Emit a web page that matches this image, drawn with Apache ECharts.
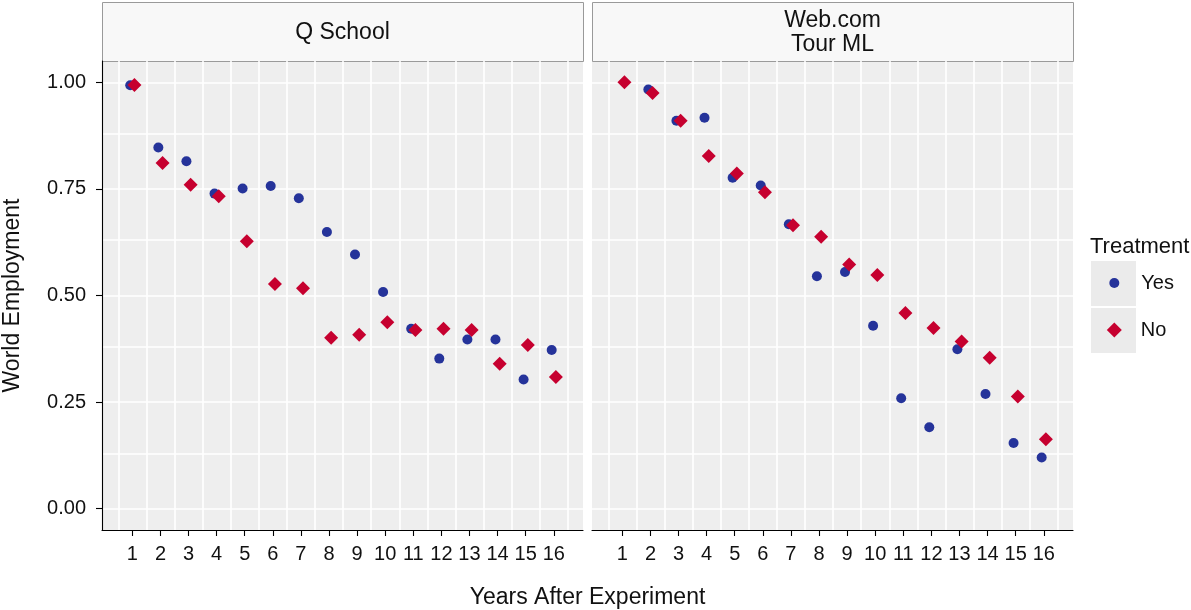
<!DOCTYPE html>
<html>
<head>
<meta charset="utf-8">
<title>World Employment by Years After Experiment</title>
<script src="https://cdn.jsdelivr.net/npm/echarts@6/dist/echarts.min.js"></script>
<style>
  html, body { margin: 0; padding: 0; background: #ffffff; }
  #chart { width: 1191px; height: 610px; }
</style>
</head>
<body>
<div id="chart"></div>
<script>
// Years after the experiment (x axis categories, shared by both panels)
const years = [1, 2, 3, 4, 5, 6, 7, 8, 9, 10, 11, 12, 13, 14, 15, 16];

// Panel titles
const panelTitles = ['Q School', 'Web.com\nTour ML'];

// Share still employed, Q School panel
const qSchoolYes = [0.993, 0.847, 0.815, 0.739, 0.751, 0.757, 0.728, 0.649, 0.596, 0.508, 0.422, 0.352, 0.397, 0.397, 0.303, 0.372];
const qSchoolNo  = [0.994, 0.811, 0.760, 0.733, 0.627, 0.527, 0.517, 0.401, 0.408, 0.437, 0.419, 0.422, 0.419, 0.340, 0.384, 0.309];

// Share still employed, Web.com Tour ML panel
const webYes = [null, 0.983, 0.910, 0.917, 0.776, 0.758, 0.667, 0.545, 0.555, 0.429, 0.259, 0.191, 0.374, 0.269, 0.154, 0.120];
const webNo  = [1.000, 0.975, 0.910, 0.827, 0.786, 0.742, 0.665, 0.638, 0.573, 0.548, 0.459, 0.424, 0.392, 0.354, 0.263, 0.163];

// Tick labels and grid-line positions
const yTicks = [0, 0.25, 0.5, 0.75, 1];
const yGridLines = [0, 0.125, 0.25, 0.375, 0.5, 0.625, 0.75, 0.875, 1];
const xGridLines = [0.5, 1.5, 2.5, 3.5, 4.5, 5.5, 6.5, 7.5, 8.5, 9.5, 10.5, 11.5, 12.5, 13.5, 14.5, 15.5, 16.5];

const FONT = '"Liberation Sans", Arial, Helvetica, sans-serif';
const TEXT = '#111111';
const BLUE = '#25339A';
const RED = '#C6002F';
const DODGE = 0.075;

// Panel geometry
const panelTop = 61, panelH = 469, panelW = 481;
const panelLeft = [102, 592];
const stripTop = 2, stripH = 59;

const xRange = { min: -0.08, max: 17.04 };
const yRange = { min: -0.05, max: 1.05 };

function pairs(values, shift) {
  const out = [];
  values.forEach((v, i) => { if (v !== null) out.push([years[i] + shift, v]); });
  return out;
}

const grids = panelLeft.map(l => ({
  left: l, top: panelTop, width: panelW, height: panelH,
  show: true, backgroundColor: '#EEEEEE', borderWidth: 0,
  containLabel: false, outerBoundsMode: 'none'
}));

const xAxes = [0, 1].map(i => ({
  type: 'value', gridIndex: i, min: xRange.min, max: xRange.max, z: 10,
  axisLine: { show: true, onZero: false, lineStyle: { color: '#000', width: 1.1 } },
  axisTick: { show: true, length: 6, customValues: years, lineStyle: { color: '#000', width: 1.1 } },
  axisLabel: { show: true, customValues: years, margin: 14, color: TEXT, fontFamily: FONT, fontSize: 20 },
  splitLine: { show: false }
}));

const yAxes = [0, 1].map(i => ({
  type: 'value', gridIndex: i, min: yRange.min, max: yRange.max, z: 10,
  axisLine: { show: i === 0, onZero: false, lineStyle: { color: '#000', width: 1.1 } },
  axisTick: { show: i === 0, length: 6, customValues: yTicks, lineStyle: { color: '#000', width: 1.1 } },
  axisLabel: { show: i === 0, customValues: yTicks, margin: 16, color: TEXT, fontFamily: FONT, fontSize: 20,
               formatter: v => v.toFixed(2) },
  splitLine: { show: false }
}));

// White grid lines, drawn through the axes as mark lines beneath the points
function gridSeries(i) {
  return {
    type: 'scatter', name: 'grid' + i, xAxisIndex: i, yAxisIndex: i, data: [], z: 1,
    silent: true, animation: false,
    markLine: {
      z: 1, silent: true, animation: false, symbol: ['none', 'none'],
      label: { show: false },
      emphasis: { disabled: true },
      lineStyle: { color: '#FFFFFF', width: 1.6, type: 'solid', opacity: 1 },
      data: xGridLines.map(v => ({ xAxis: v })).concat(yGridLines.map(v => ({ yAxis: v })))
    }
  };
}

function pointSeries(name, i, values, isYes) {
  return {
    type: 'scatter', name: name, xAxisIndex: i, yAxisIndex: i, z: isYes ? 3 : 4,
    symbol: isYes ? 'circle' : 'diamond',
    symbolSize: isYes ? 10 : 14,
    itemStyle: { color: isYes ? BLUE : RED, opacity: 1 },
    data: pairs(values, isYes ? -DODGE : DODGE),
    animation: false
  };
}

const graphics = [];
panelLeft.forEach((l, i) => {
  graphics.push({
    type: 'rect', left: l, top: stripTop,
    shape: { width: panelW, height: stripH },
    style: { fill: '#F8F8F8', stroke: '#9A9A9A', lineWidth: 1 }
  });
  graphics.push({
    type: 'text', x: l + panelW / 2, y: stripTop + stripH / 2 + 1,
    style: { text: panelTitles[i], fill: TEXT, font: '23px ' + FONT, align: 'center', verticalAlign: 'middle', lineHeight: 24 }
  });
});
// Legend key backgrounds and title
graphics.push({ type: 'rect', left: 1091, top: 261, shape: { width: 45, height: 45 }, style: { fill: '#EBEBEB' } });
graphics.push({ type: 'rect', left: 1091, top: 308, shape: { width: 45, height: 45 }, style: { fill: '#EBEBEB' } });
graphics.push({ type: 'text', x: 1090, y: 247, style: { text: 'Treatment', fill: TEXT, font: '22px ' + FONT, align: 'left', verticalAlign: 'middle' } });
// Axis titles
graphics.push({ type: 'text', x: 587.5, y: 598, style: { text: 'Years After Experiment', fill: TEXT, font: '23px ' + FONT, align: 'center', verticalAlign: 'middle' } });
graphics.push({ type: 'text', x: 13, y: 295.5, rotation: Math.PI / 2,
  style: { text: 'World Employment', fill: TEXT, font: '23px ' + FONT, align: 'center', verticalAlign: 'middle' } });

const legendBase = {
  orient: 'vertical', padding: 0, itemGap: 0, selectedMode: false,
  textStyle: { color: TEXT, fontFamily: FONT, fontSize: 20, lineHeight: 24 }
};

const option = {
  animation: false,
  backgroundColor: '#FFFFFF',
  grid: grids,
  xAxis: xAxes,
  yAxis: yAxes,
  legend: [
    Object.assign({}, legendBase, { data: ['Yes'], left: 1109.3, top: 271, itemWidth: 10, itemHeight: 10,
      textStyle: Object.assign({}, legendBase.textStyle, { padding: [0, 0, 0, 17] }) }),
    Object.assign({}, legendBase, { data: ['No'], left: 1106.8, top: 318, itemWidth: 15, itemHeight: 15,
      textStyle: Object.assign({}, legendBase.textStyle, { padding: [0, 0, 0, 14] }) })
  ],
  graphic: graphics,
  series: [
    gridSeries(0), gridSeries(1),
    pointSeries('Yes', 0, qSchoolYes, true),
    pointSeries('No', 0, qSchoolNo, false),
    pointSeries('Yes', 1, webYes, true),
    pointSeries('No', 1, webNo, false)
  ]
};

const chart = echarts.init(document.getElementById('chart'), null, { renderer: 'canvas' });
chart.setOption(option);
</script>
</body>
</html>
